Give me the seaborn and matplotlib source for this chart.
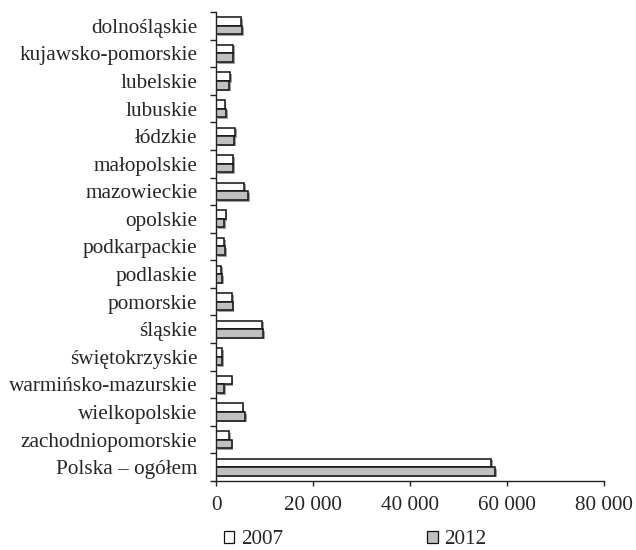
import matplotlib
matplotlib.use("Agg")
import matplotlib.pyplot as plt
import matplotlib.patheffects as pe
from matplotlib.patches import Patch
from matplotlib.ticker import FuncFormatter, FixedLocator
import numpy as np
import pandas as pd
import seaborn as sns

regions = [
    "dolnośląskie", "kujawsko-pomorskie", "lubelskie", "lubuskie", "łódzkie",
    "małopolskie", "mazowieckie", "opolskie", "podkarpackie", "podlaskie",
    "pomorskie", "śląskie", "świętokrzyskie", "warmińsko-mazurskie",
    "wielkopolskie", "zachodniopomorskie", "Polska – ogółem",
]
years = ["2007", "2012"]
values_2007 = [5200, 3600, 2950, 1800, 4000, 3600, 5800, 2000, 1650, 1100,
               3300, 9500, 1250, 3200, 5500, 2700, 56800]
values_2012 = [5400, 3600, 2750, 2050, 3700, 3600, 6700, 1650, 1850, 1250,
               3450, 9700, 1250, 1700, 6000, 3200, 57500]
x_ticks = [0, 20000, 40000, 60000, 80000]

colors = {"2007": "#ffffff", "2012": "#c0c0c0"}

sns.set_style("ticks")
plt.rcParams["font.family"] = ["Liberation Serif", "DejaVu Serif"]
plt.rcParams["axes.edgecolor"] = "#222222"

n = len(regions)
df = pd.DataFrame({
    "region": regions * 2,
    "year": [years[0]] * n + [years[1]] * n,
    "value": values_2007 + values_2012,
})

fig = plt.figure(figsize=(6.36, 5.5), dpi=100)
ax = fig.add_axes([216 / 636, 1 - 481 / 550, (604 - 216) / 636, (481 - 12) / 550])

sns.barplot(data=df, y="region", x="value", hue="year", orient="h",
            palette=colors, saturation=1, width=0.62, gap=0,
            edgecolor="#111111", linewidth=1.1, legend=False, ax=ax)

for patch in ax.patches:
    patch.set_path_effects([
        pe.SimplePatchShadow(offset=(1.2, -1.2), shadow_rgbFace="#777777", alpha=0.7),
        pe.Normal(),
    ])

ax.set_xlim(0, 80000)
ax.set_ylim(n - 0.5, -0.5)
ax.set_xticks(x_ticks)
ax.xaxis.set_major_formatter(FuncFormatter(lambda v, p: f"{int(v):,}".replace(",", " ")))
ax.yaxis.set_minor_locator(FixedLocator(np.arange(-0.5, n, 1.0)))

ax.tick_params(axis="y", which="major", length=0, pad=13.5, labelsize=15.3)
ax.tick_params(axis="y", which="minor", length=4.5, width=1.0, color="#222222")
ax.tick_params(axis="x", which="major", length=3.5, width=1.0, pad=7.5,
               labelsize=15.3, color="#222222")

for side in ("top", "right"):
    ax.spines[side].set_visible(False)
for side in ("left", "bottom"):
    ax.spines[side].set_linewidth(1.0)

ax.set_xlabel("")
ax.set_ylabel("")

handles = [Patch(facecolor=colors[y], edgecolor="#111111", linewidth=0.9) for y in years]
fig.legend(handles, years, loc="center", bbox_to_anchor=(355 / 636, 1 - 540 / 550),
           ncol=2, frameon=False, fontsize=15.3, handlelength=0.5, handleheight=0.5,
           handletextpad=0.3, columnspacing=6.8, borderpad=0, borderaxespad=0)

fig.savefig("out.png", dpi=100)
